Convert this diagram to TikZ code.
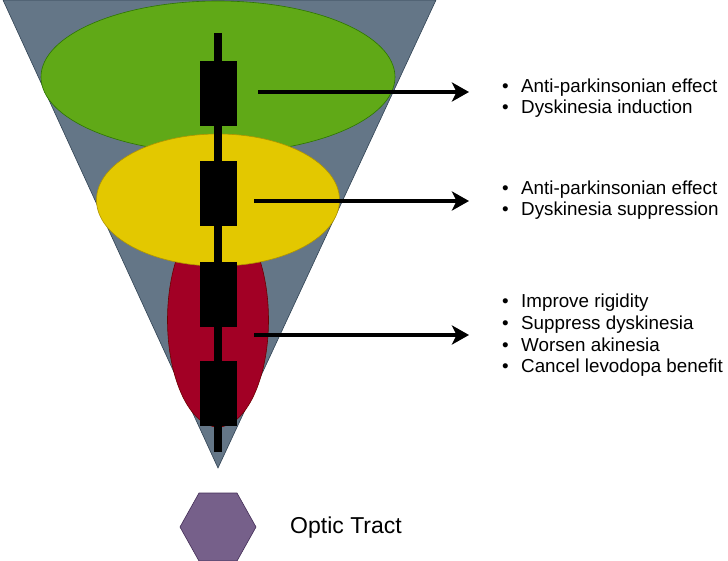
\documentclass[tikz,border=0pt]{standalone}
\usepackage{fontspec}
\setmainfont{Liberation Sans}
\usetikzlibrary{shapes.geometric,arrows.meta}
\definecolor{trifill}{HTML}{647687}
\definecolor{tridraw}{HTML}{314354}
\definecolor{grnfill}{HTML}{60A917}
\definecolor{grndraw}{HTML}{2D7600}
\definecolor{yelfill}{HTML}{E3C800}
\definecolor{yeldraw}{HTML}{B09500}
\definecolor{redfill}{HTML}{A20025}
\definecolor{reddraw}{HTML}{6F0000}
\definecolor{hexfill}{HTML}{76608A}
\definecolor{hexdraw}{HTML}{432D57}
\begin{document}
\begin{tikzpicture}[x=1pt,y=-1pt,
  zone/.style={ellipse,inner sep=0pt,line width=0.6pt},
  contact/.style={rectangle,fill=black,inner sep=0pt,minimum width=37pt,minimum height=65pt},
  effect/.style={-{Stealth[length=17pt,width=19pt,inset=4.5pt]},line width=4pt},
  textlist/.style={anchor=west,align=left,inner sep=0pt,font=\fontsize{18.8}{21.7}\selectfont}
]
\useasboundingbox (0,0) rectangle (728,561);
% cone
\draw[fill=trifill,draw=tridraw,line width=0.6pt] (3,0) coordinate (tl) -- (436,0) coordinate (tr) -- (218,468) coordinate (apex) -- cycle;
% zones
\node[zone,fill=redfill,draw=reddraw,minimum width=101pt,minimum height=214pt] (red) at (218,320) {};
\node[zone,fill=grnfill,draw=grndraw,minimum width=354pt,minimum height=152pt] (green) at (218,77) {};
\node[zone,fill=yelfill,draw=yeldraw,minimum width=243pt,minimum height=132pt] (yellow) at (218,200) {};
% electrode
\coordinate (etop) at (218,33);
\coordinate (ebot) at (218,452);
\draw[line width=8pt] (etop) -- (ebot);
\node[contact] (c1) at (218,93.5) {};
\node[contact] (c2) at (218,194) {};
\node[contact] (c3) at (218,294.5) {};
\node[contact] (c4) at (218,393.5) {};
% arrows
\coordinate (s1) at (258,92);
\coordinate (s2) at (254,201);
\coordinate (s3) at (254,335);
\coordinate (e1) at (469,92);
\coordinate (e2) at (469,201);
\coordinate (e3) at (469,335);
\draw[effect] (s1) -- (e1);
\draw[effect] (s2) -- (e2);
\draw[effect] (s3) -- (e3);
% texts
\node[textlist] (t1) at (502,98) {\makebox[19pt][l]{\textbullet}Anti-parkinsonian effect\\\makebox[19pt][l]{\textbullet}Dyskinesia induction};
\node[textlist] (t2) at (502,200) {\makebox[19pt][l]{\textbullet}Anti-parkinsonian effect\\\makebox[19pt][l]{\textbullet}Dyskinesia suppression};
\node[textlist] (t3) at (502,335.5) {\makebox[19pt][l]{\textbullet}Improve rigidity\\\makebox[19pt][l]{\textbullet}Suppress dyskinesia\\\makebox[19pt][l]{\textbullet}Worsen akinesia\\\makebox[19pt][l]{\textbullet}Cancel levodopa benefit};
% optic tract
\draw[fill=hexfill,draw=hexdraw,line width=0.6pt] (180,527) -- (199,493) -- (237,493) -- (256,527) -- (237,561) -- (199,561) -- cycle;
\node[anchor=west,inner sep=0pt,font=\fontsize{23}{27}\selectfont] (ot) at (290,528) {Optic Tract};
\end{tikzpicture}
\end{document}
